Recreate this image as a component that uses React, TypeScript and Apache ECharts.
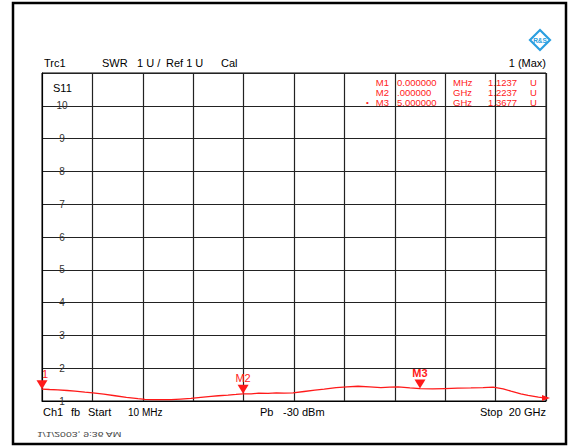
import React, { useEffect, useRef } from 'react';
import * as echarts from 'echarts';

// Frequency in GHz (10 MHz .. 20 GHz) and SWR
const freqGHz = [0, 0.3, 0.63, 1.0, 1.31, 1.7, 2.02, 2.45, 2.9, 3.35, 3.81, 4.09, 4.4, 4.68, 5.12, 5.5, 5.91, 6.3, 6.71, 7.0, 7.38, 7.7, 7.98, 8.3, 8.6, 8.97, 9.3, 9.6, 9.96, 10.4, 10.83, 11.2, 11.67, 12.1, 12.54, 13.0, 13.45, 13.8, 14.13, 14.6, 15.0, 15.5, 15.99, 16.5, 17.02, 17.5, 17.9, 18.3, 18.61, 19.0, 19.29, 19.7, 20];
const swr = [1.36, 1.35, 1.34, 1.32, 1.30, 1.27, 1.25, 1.21, 1.16, 1.11, 1.07, 1.05, 1.04, 1.04, 1.04, 1.06, 1.08, 1.11, 1.14, 1.16, 1.18, 1.20, 1.22, 1.22, 1.24, 1.23, 1.25, 1.24, 1.25, 1.29, 1.33, 1.36, 1.41, 1.43, 1.45, 1.43, 1.41, 1.42, 1.43, 1.40, 1.38, 1.37, 1.38, 1.39, 1.40, 1.41, 1.42, 1.37, 1.30, 1.22, 1.17, 1.12, 1.09];

const markerNames = ['M1', 'M2', 'M3'];
const markerFreq = [0, 7.98, 15.0];
const markerSwr = [1.36, 1.22, 1.38];
const markerLabels = ['1', 'M2', 'M3'];

const tableRows = [
  ['M1', '0.000000', 'MHz', '1.1237', 'U'],
  ['M2', '.000000', 'GHz', '1.2237', 'U'],
  ['M3', '5.000000', 'GHz', '1.3677', 'U'],
];

const yTicks = [1, 2, 3, 4, 5, 6, 7, 8, 9, 10];

const FONT = 'Liberation Sans, Arial, sans-serif';
const RED = '#ff1a1a';

export default function App() {
  const ref = useRef<HTMLDivElement>(null);
  useEffect(() => {
    if (!ref.current) return;
    const chart = echarts.init(ref.current, undefined, { renderer: 'svg' });

    const txt = (text: string, x: number, y: number, extra: any = {}) => ({
      type: 'text',
      x,
      y,
      style: {
        text,
        fontSize: 11,
        fontFamily: FONT,
        fill: '#000',
        align: 'left',
        verticalAlign: 'middle',
        ...extra,
      },
    });

    const rowYs = [82.5, 92.5, 102.5];
    const tableEls: any[] = [];
    tableRows.forEach((r, i) => {
      const y = rowYs[i];
      const s = { fontSize: 9.5, fill: RED };
      tableEls.push(txt(r[0], 389, y, { ...s, align: 'right' }));
      tableEls.push(txt(r[1], 397, y, s));
      tableEls.push(txt(r[2], 453, y, s));
      tableEls.push(txt(r[3], 488, y, s));
      tableEls.push(txt(r[4], 530, y, s));
    });
    tableEls.push(txt('•', 366, rowYs[2], { fontSize: 8, fill: RED }));

    const option: any = {
      animation: false,
      backgroundColor: '#fff',
      grid: { left: 42, right: 23, top: 73, bottom: 46, show: true, borderColor: '#000', borderWidth: 1 },
      xAxis: {
        type: 'value',
        min: 0,
        max: 20,
        interval: 2,
        axisLabel: { show: false },
        axisTick: { show: false },
        axisLine: { show: true, lineStyle: { color: '#000', width: 1 } },
        splitLine: { show: true, lineStyle: { color: '#222', width: 1.2 } },
      },
      yAxis: {
        type: 'value',
        min: 1,
        max: 11,
        interval: 1,
        axisTick: { show: false },
        axisLine: { show: true, lineStyle: { color: '#000', width: 1 } },
        splitLine: { show: true, lineStyle: { color: '#222', width: 1.2 } },
        axisLabel: {
          inside: true,
          margin: 20,
          align: 'center',
          fontSize: 10,
          fontFamily: FONT,
          color: '#333',
          formatter: (v: number) => (yTicks.indexOf(v) >= 0 ? String(v) : ''),
        },
      },
      series: [
        {
          type: 'line',
          data: freqGHz.map((f, i) => [f, swr[i]]),
          showSymbol: false,
          lineStyle: { color: RED, width: 1.3 },
          silent: true,
          markPoint: {
            silent: true,
            data: [
              ...markerNames.map((n, i) => ({
                name: n,
                coord: [markerFreq[i], markerSwr[i]],
                symbol: 'triangle',
                symbolRotate: 180,
                symbolSize: [11, 9],
                symbolOffset: [0, -4.5],
                itemStyle: { color: RED },
                label: {
                  show: true,
                  position: 'top',
                  distance: 1,
                  formatter: markerLabels[i],
                  color: RED,
                  fontSize: 11,
                  fontFamily: FONT,
                  fontWeight: n === 'M3' ? 'bold' : 'normal',
                  offset: n === 'M1' ? [3, 0] : [0, 0],
                },
              })),
              {
                name: 'end',
                coord: [freqGHz[freqGHz.length - 1], swr[swr.length - 1]],
                symbol: 'triangle',
                symbolRotate: -90,
                symbolSize: [6, 8],
                itemStyle: { color: RED },
                label: { show: false },
              },
            ],
          },
        },
      ],
      graphic: [
        {
          type: 'rect',
          shape: { x: 13, y: 3, width: 553, height: 441 },
          style: { fill: 'none', stroke: '#000', lineWidth: 2.5 },
          silent: true,
        },
        {
          type: 'polygon',
          shape: { points: [[540, 30], [550, 40], [540, 50], [530, 40]] },
          style: { fill: '#fff', stroke: '#2b9fe0', lineWidth: 2.2 },
        },
        txt('R&S', 540, 40, { fontSize: 6.5, fill: '#2b9fe0', align: 'center', fontWeight: 'bold' }),
        txt('Trc1', 44, 63),
        txt('SWR', 102, 63),
        txt('1 U /', 137, 63),
        txt('Ref 1 U', 166, 63),
        txt('Cal', 221, 63),
        txt('1 (Max)', 546, 63, { align: 'right' }),
        txt('S11', 53, 88),
        ...tableEls,
        txt('Ch1', 43, 412),
        txt('fb', 71, 412),
        txt('Start', 88, 412),
        txt('10 MHz', 128, 412, { fontSize: 10 }),
        txt('Pb', 260, 412),
        txt('-30 dBm', 283, 412),
        txt('Stop  20 GHz', 546, 412, { align: 'right' }),
        {
          type: 'text',
          x: 37,
          y: 435,
          scaleY: -1,
          scaleX: 1.3,
          style: {
            text: '1/1/2003, 9:36 AM',
            fontSize: 8,
            fontFamily: FONT,
            fill: '#444',
            align: 'left',
            verticalAlign: 'middle',
          },
        },
      ],
    };
    chart.setOption(option);
    return () => chart.dispose();
  }, []);
  return (
    <div
      ref={ref}
      style={{ position: 'fixed', left: 0, top: 0, width: 569, height: 447, background: '#fff' }}
    />
  );
}
